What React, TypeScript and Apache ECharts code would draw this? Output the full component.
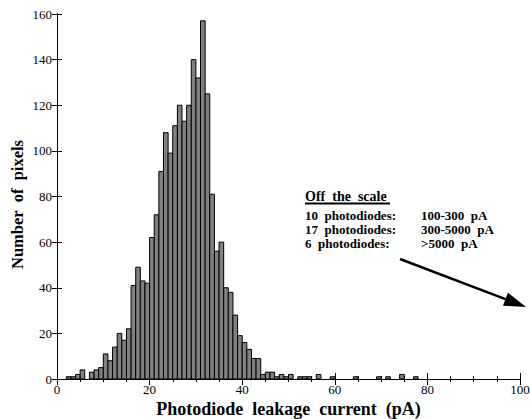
import React, { useEffect, useRef } from "react";
import * as echarts from "echarts";

// Histogram of photodiode leakage current, 1 pA bins starting at 0 pA
const binCounts: number[] = [
  0, 0, 1, 1, 2, 4, 0, 3, 4, 5,
  11, 8, 14, 20, 17, 22, 41, 49, 43, 42,
  62, 72, 91, 108, 99, 111, 120, 113, 120, 140,
  132, 157, 125, 81, 56, 60, 40, 38, 28, 19,
  16, 13, 9, 9, 2, 3, 3, 1, 2, 1,
  2, 0, 1, 1, 1, 0, 2, 0, 0, 1,
  0, 0, 0, 0, 1, 0, 0, 0, 0, 1,
  0, 1, 0, 0, 2, 0, 0, 1,
];
const binWidth = 1;

const xTitle = "Photodiode  leakage  current  (pA)";
const yTitle = "Number  of  pixels";
const noteTitle = "Off  the  scale";
const noteCounts = ["10  photodiodes:", "17  photodiodes:", "6  photodiodes:"];
const noteRanges = ["100-300  pA", "300-5000  pA", ">5000  pA"];

const SERIF = "Liberation Serif";

export default function App() {
  const ref = useRef<HTMLDivElement>(null);
  useEffect(() => {
    if (!ref.current) return;
    const chart = echarts.init(ref.current, null, { renderer: "svg" });
    const data = binCounts
      .map((c, i) => [i * binWidth, (i + 1) * binWidth, c])
      .filter((d) => d[2] > 0);

    const tickCommon = {
      axisLine: { show: true, lineStyle: { color: "#000", width: 1 } },
      splitLine: { show: false },
    };

    const xBase = {
      type: "value" as const,
      min: 0,
      max: 100,
      interval: 20,
      ...tickCommon,
      axisTick: { show: true, inside: true, length: 6, lineStyle: { color: "#000" } },
      minorTick: { show: true, splitNumber: 4, length: 3, lineStyle: { color: "#000" } },
      minorSplitLine: { show: false },
    };
    const yBase = {
      type: "value" as const,
      min: 0,
      max: 160,
      interval: 20,
      ...tickCommon,
      axisTick: { show: true, inside: true, length: 5, lineStyle: { color: "#000" } },
    };

    const lx = 305;
    const rx = 421;
    const tip = [526, 307];
    const start = [400, 259];
    const dx = tip[0] - start[0];
    const dy = tip[1] - start[1];
    const len = Math.sqrt(dx * dx + dy * dy);
    const ux = dx / len;
    const uy = dy / len;
    const headL = 22;
    const headW = 7;
    const bx = tip[0] - headL * ux;
    const by = tip[1] - headL * uy;

    const textStyle = (size: number) => ({
      fontFamily: SERIF,
      fontWeight: "bold",
      fontSize: size,
      fill: "#000",
    });

    const graphics: any[] = [
      {
        type: "text",
        x: lx,
        y: 196,
        style: { ...textStyle(14), text: noteTitle, verticalAlign: "middle", align: "left" },
      },
      {
        type: "line",
        shape: { x1: lx, y1: 203.5, x2: 390, y2: 203.5 },
        style: { stroke: "#000", lineWidth: 2 },
      },
      {
        type: "text",
        x: lx,
        y: 209,
        style: {
          ...textStyle(13),
          text: noteCounts.join("\n"),
          lineHeight: 13.8,
          verticalAlign: "top",
          align: "left",
        },
      },
      {
        type: "text",
        x: rx,
        y: 209,
        style: {
          ...textStyle(13),
          text: noteRanges.join("\n"),
          lineHeight: 13.8,
          verticalAlign: "top",
          align: "left",
        },
      },
      {
        type: "line",
        shape: { x1: start[0], y1: start[1], x2: bx, y2: by },
        style: { stroke: "#000", lineWidth: 2.5 },
      },
      {
        type: "polygon",
        shape: {
          points: [
            [tip[0], tip[1]],
            [bx - headW * uy, by + headW * ux],
            [bx + headW * uy, by - headW * ux],
          ],
        },
        style: { fill: "#000" },
      },
    ];

    chart.setOption({
      animation: false,
      backgroundColor: "#fff",
      textStyle: { fontFamily: SERIF },
      grid: {
        left: 57,
        right: 10,
        top: 14,
        bottom: 40,
        containLabel: false,
        outerBoundsMode: "none",
      },
      xAxis: [
        {
          ...xBase,
          position: "bottom",
          name: xTitle,
          nameLocation: "middle",
          nameGap: 21,
          nameMoveOverlap: false,
          nameTextStyle: { fontFamily: SERIF, fontWeight: "bold", fontSize: 18, color: "#000", verticalAlign: "top" },
          axisLabel: { color: "#000", fontFamily: SERIF, fontSize: 13, margin: 4 },
        },
        {
          ...xBase,
          position: "top",
          axisLabel: { show: false },
        },
      ],
      yAxis: [
        {
          ...yBase,
          position: "left",
          name: yTitle,
          nameLocation: "middle",
          nameGap: 31,
          nameMoveOverlap: false,
          nameTextStyle: {
            fontFamily: SERIF,
            fontWeight: "bold",
            fontSize: 16.5,
            color: "#000",
            padding: [0, 16, 0, 0],
          },
          axisLabel: { color: "#000", fontFamily: SERIF, fontSize: 13, margin: 5 },
        },
        {
          ...yBase,
          position: "right",
          axisLabel: { show: false },
        },
      ],
      series: [
        {
          type: "custom",
          xAxisIndex: 0,
          yAxisIndex: 0,
          data,
          encode: { x: [0, 1], y: 2 },
          renderItem: (params: any, api: any) => {
            const p0 = api.coord([api.value(0), api.value(2)]);
            const p1 = api.coord([api.value(1), 0]);
            return {
              type: "rect",
              shape: { x: p0[0], y: p0[1], width: p1[0] - p0[0], height: p1[1] - p0[1] },
              style: { fill: "#808080", stroke: "#000", lineWidth: 1 },
            };
          },
        },
      ],
      graphic: graphics,
    });
    return () => chart.dispose();
  }, []);
  return (
    <div
      ref={ref}
      style={{ position: "fixed", left: 0, top: 0, width: 530, height: 419 }}
    />
  );
}
